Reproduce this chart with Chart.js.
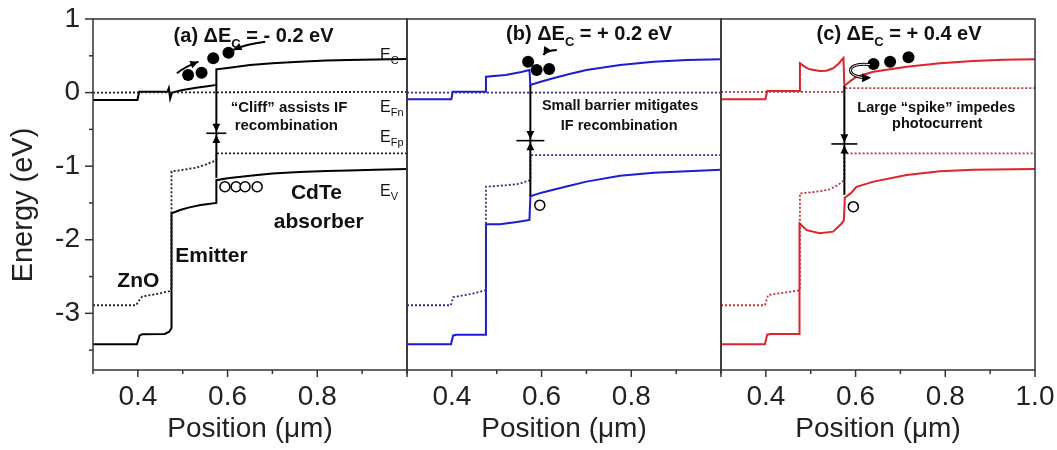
<!DOCTYPE html>
<html>
<head>
<meta charset="utf-8">
<script src="https://cdn.jsdelivr.net/npm/chart.js@4.4.1/dist/chart.umd.min.js"></script>
<style>
  body { margin: 0; background: #fff; }
  #wrap { position: relative; width: 1057px; height: 450px; }
  #wrap canvas { position: absolute; top: 0; }
</style>
</head>
<body>
<div id="wrap">
  <canvas id="panelA" width="410" height="450" style="left:0px"></canvas>
  <canvas id="panelB" width="320" height="450" style="left:404px"></canvas>
  <canvas id="panelC" width="339" height="450" style="left:718px"></canvas>
</div>
<script>
const FONT = "'Liberation Sans', Arial, Helvetica, sans-serif";

// axes (position in um, energy in eV)
const xTicks = [0.3, 0.4, 0.5, 0.6, 0.7, 0.8, 0.9, 1.0];
const yTicks = [1, 0.5, 0, -0.5, -1, -1.5, -2, -2.5, -3, -3.5];
const yMin = -3.77, yMax = 1;

// (a) dEc = -0.2 eV  : [position, energy]
const ecA = [[0.3,-0.1],[0.399,-0.1],[0.403,0.01],[0.466,0.01],[0.469,0.06],[0.472,-0.08],[0.476,0.0],[0.50,0.035],[0.53,0.065],[0.555,0.085],[0.575,0.103],[0.575,0.316],[0.60,0.335],[0.65,0.375],[0.70,0.40],[0.76,0.42],[0.82,0.435],[0.87,0.443],[0.93,0.45],[1.0,0.456]];
const efnA = [[0.3,0.0],[1.0,0.01]];
const efpA = [[0.3,-2.89],[0.396,-2.89],[0.402,-2.83],[0.41,-2.77],[0.44,-2.74],[0.47,-2.70],[0.475,-2.65],[0.475,-1.07],[0.50,-1.05],[0.53,-1.02],[0.555,-0.97],[0.575,-0.92],[0.575,-0.825],[1.0,-0.825]];
const evA = [[0.3,-3.42],[0.398,-3.42],[0.404,-3.30],[0.41,-3.285],[0.46,-3.28],[0.47,-3.25],[0.475,-3.2],[0.475,-1.64],[0.48,-1.63],[0.494,-1.595],[0.515,-1.56],[0.54,-1.527],[0.575,-1.50],[0.575,-1.19],[0.60,-1.165],[0.65,-1.13],[0.70,-1.10],[0.76,-1.08],[0.82,-1.065],[0.87,-1.06],[0.93,-1.05],[1.0,-1.04]];
const electronsA = [[0.512,0.239],[0.542,0.27],[0.568,0.466],[0.602,0.542]];
const holesA = [[0.594,-1.28],[0.619,-1.28],[0.639,-1.28],[0.666,-1.28]];

// (b) dEc = +0.2 eV
const ecB = [[0.3,-0.09],[0.399,-0.09],[0.402,0.01],[0.476,0.01],[0.476,0.216],[0.52,0.24],[0.555,0.28],[0.573,0.307],[0.575,0.103],[0.60,0.15],[0.626,0.194],[0.66,0.25],[0.70,0.307],[0.775,0.375],[0.85,0.42],[0.924,0.443],[1.0,0.452]];
const efnB = [[0.3,0.0],[1.0,0.0]];
const efpB = [[0.3,-2.89],[0.398,-2.89],[0.403,-2.78],[0.44,-2.74],[0.474,-2.69],[0.476,-2.68],[0.476,-1.28],[0.52,-1.26],[0.55,-1.24],[0.575,-1.19],[0.575,-0.85],[1.0,-0.85]];
const evB = [[0.3,-3.42],[0.398,-3.42],[0.403,-3.30],[0.41,-3.29],[0.476,-3.29],[0.476,-1.79],[0.507,-1.79],[0.545,-1.76],[0.573,-1.73],[0.575,-1.41],[0.60,-1.36],[0.626,-1.32],[0.66,-1.27],[0.70,-1.21],[0.775,-1.13],[0.85,-1.09],[0.924,-1.07],[1.0,-1.05]];
const electronsB = [[0.570,0.42],[0.589,0.307],[0.617,0.32]];
const holesB = [[0.596,-1.53]];

// (c) dEc = +0.4 eV
const ecC = [[0.3,-0.09],[0.399,-0.09],[0.403,0.02],[0.476,0.02],[0.476,0.40],[0.487,0.35],[0.498,0.316],[0.52,0.293],[0.535,0.298],[0.55,0.33],[0.562,0.39],[0.569,0.443],[0.573,0.47],[0.575,0.09],[0.589,0.16],[0.602,0.216],[0.64,0.284],[0.714,0.352],[0.788,0.398],[0.862,0.429],[0.93,0.445],[1.0,0.452]];
const efnC = [[0.3,0.01],[0.575,0.01],[0.575,0.06],[1.0,0.06]];
const efpC = [[0.3,-2.89],[0.398,-2.89],[0.405,-2.75],[0.44,-2.72],[0.472,-2.69],[0.476,-2.68],[0.476,-1.37],[0.51,-1.35],[0.54,-1.32],[0.56,-1.26],[0.575,-1.19],[0.575,-0.825],[1.0,-0.825]];
const evC = [[0.3,-3.42],[0.398,-3.42],[0.403,-3.29],[0.41,-3.28],[0.475,-3.28],[0.475,-1.776],[0.491,-1.87],[0.52,-1.91],[0.55,-1.89],[0.569,-1.78],[0.574,-1.73],[0.576,-1.43],[0.589,-1.37],[0.602,-1.28],[0.64,-1.21],[0.714,-1.12],[0.788,-1.07],[0.862,-1.05],[1.0,-1.04]];
const electronsC = [[0.64,0.39],[0.677,0.42],[0.718,0.48]];
const holesC = [[0.595,-1.55]];

const toXY = arr => arr.map(p => ({ x: p[0], y: p[1] }));

function bandSets(ec, efn, efp, ev, solid, dotted, electrons, holes) {
  return [
    { data: toXY(efn), borderColor: dotted, borderWidth: 1.8, borderDash: [2, 2] },
    { data: toXY(efp), borderColor: dotted, borderWidth: 1.8, borderDash: [2, 2] },
    { data: toXY(ec), borderColor: solid, borderWidth: 2 },
    { data: toXY(ev), borderColor: solid, borderWidth: 2 },
    { data: toXY(electrons), showLine: false, pointRadius: 6, pointBackgroundColor: '#000', pointBorderWidth: 0 },
    { data: toXY(holes), showLine: false, pointRadius: 5, pointBackgroundColor: '#fff', pointBorderColor: '#000', pointBorderWidth: 1.5 }
  ].map(d => Object.assign({ pointRadius: 0, tension: 0, fill: false }, d));
}

// text helpers: parts = [text, font, dy]
function partsWidth(ctx, parts) {
  let w = 0;
  for (const p of parts) { ctx.font = p[1]; w += ctx.measureText(p[0]).width; }
  return w;
}
function drawParts(ctx, x, y, parts, align) {
  let cx = align === 'center' ? x - partsWidth(ctx, parts) / 2 : x;
  ctx.textAlign = 'left';
  ctx.textBaseline = 'alphabetic';
  for (const p of parts) {
    ctx.font = p[1];
    ctx.fillText(p[0], cx, y + (p[2] || 0));
    cx += ctx.measureText(p[0]).width;
  }
}

function arrowHead(ctx, x, y, ang, size) {
  ctx.beginPath();
  ctx.moveTo(x, y);
  ctx.lineTo(x - size * Math.cos(ang - 0.45), y - size * Math.sin(ang - 0.45));
  ctx.lineTo(x - size * Math.cos(ang + 0.45), y - size * Math.sin(ang + 0.45));
  ctx.closePath();
  ctx.fill();
}

const B20 = 'bold 20px ' + FONT, B13 = 'bold 13px ' + FONT;
const N16 = '16px ' + FONT, N11 = '11px ' + FONT;

function titleParts(tag, val) {
  return [['(' + tag + ') \u0394E', B20, 0], ['C', B13, 6], [' = ' + val + ' eV', B20, 0]];
}

const notesA = {
  texts: [
    { x: 0.658, y: 0.69, parts: titleParts('a', '- 0.2'), align: 'center' },
    { x: 0.737, y: -0.26, parts: [['\u201CCliff\u201D assists IF', 'bold 15px ' + FONT]], align: 'center' },
    { x: 0.731, y: -0.505, parts: [['recombination', 'bold 15px ' + FONT]], align: 'center' },
    { x: 0.798, y: -1.44, parts: [['CdTe', 'bold 21px ' + FONT]], align: 'center' },
    { x: 0.803, y: -1.84, parts: [['absorber', 'bold 21px ' + FONT]], align: 'center' },
    { x: 0.564, y: -2.30, parts: [['Emitter', 'bold 21px ' + FONT]], align: 'center' },
    { x: 0.401, y: -2.64, parts: [['ZnO', 'bold 21px ' + FONT]], align: 'center' },
    { x: 0.94, y: 0.445, parts: [['E', N16], ['C', N11, 4]], align: 'left' },
    { x: 0.94, y: -0.26, parts: [['E', N16], ['Fn', N11, 4]], align: 'left' },
    { x: 0.94, y: -0.665, parts: [['E', N16], ['Fp', N11, 4]], align: 'left' },
    { x: 0.94, y: -1.41, parts: [['E', N16], ['V', N11, 4]], align: 'left' }
  ],
  rec: { x: 0.575, top: 0.103, bottom: -1.16, bar: -0.553, half: 10 },
  arrows: [
    [[0.487, 0.262], [0.505, 0.35], [0.535, 0.42]],
    [[0.684, 0.69], [0.64, 0.655], [0.613, 0.58]]
  ],
  curl: null,
  yTitle: true
};
const notesB = {
  texts: [
    { x: 0.706, y: 0.715, parts: titleParts('b', '+ 0.2'), align: 'center' },
    { x: 0.775, y: -0.236, parts: [['Small barrier mitigates', 'bold 14.5px ' + FONT]], align: 'center' },
    { x: 0.773, y: -0.508, parts: [['IF recombination', 'bold 14.5px ' + FONT]], align: 'center' }
  ],
  rec: { x: 0.575, top: 0.103, bottom: -1.41, bar: -0.653, half: 14 },
  arrows: [[[0.634, 0.579], [0.61, 0.57], [0.604, 0.51]]],
  curl: null,
  yTitle: false
};
const notesC = {
  texts: [
    { x: 0.697, y: 0.715, parts: titleParts('c', '+ 0.4'), align: 'center' },
    { x: 0.78, y: -0.264, parts: [['Large \u201Cspike\u201D impedes', 'bold 14.5px ' + FONT]], align: 'center' },
    { x: 0.782, y: -0.488, parts: [['photocurrent', 'bold 14.5px ' + FONT]], align: 'center' }
  ],
  rec: { x: 0.575, top: 0.09, bottom: -1.39, bar: -0.698, half: 13 },
  arrows: [],
  curl: [[0.632, 0.38], [0.575, 0.42], [0.575, 0.20], [0.628, 0.20]],
  yTitle: false
};

const notesPlugin = {
  id: 'notes',
  afterDatasetsDraw(chart, args, opts) {
    const n = opts.notes;
    const ctx = chart.ctx, xs = chart.scales.x, ys = chart.scales.y, a = chart.chartArea;
    const px = v => xs.getPixelForValue(v), py = v => ys.getPixelForValue(v);
    ctx.save();
    // recombination marker
    const r = n.rec, rx = px(r.x), bar = py(r.bar);
    ctx.strokeStyle = '#000'; ctx.fillStyle = '#000'; ctx.lineWidth = 2;
    ctx.beginPath(); ctx.moveTo(rx, py(r.top)); ctx.lineTo(rx, py(r.bottom)); ctx.stroke();
    ctx.lineWidth = 1.6;
    ctx.beginPath(); ctx.moveTo(rx - r.half, bar); ctx.lineTo(rx + r.half, bar); ctx.stroke();
    arrowHead(ctx, rx, bar - 1.5, Math.PI / 2, 9);
    arrowHead(ctx, rx, bar + 1.5, -Math.PI / 2, 9);
    // electron arrows
    ctx.lineWidth = 2;
    for (const ar of n.arrows) {
      const p = ar.map(q => [px(q[0]), py(q[1])]);
      ctx.beginPath(); ctx.moveTo(p[0][0], p[0][1]);
      ctx.quadraticCurveTo(p[1][0], p[1][1], p[2][0], p[2][1]); ctx.stroke();
      arrowHead(ctx, p[2][0], p[2][1], Math.atan2(p[2][1] - p[1][1], p[2][0] - p[1][0]), 9);
    }
    if (n.curl) {
      const p = n.curl.map(q => [px(q[0]), py(q[1])]);
      ctx.lineWidth = 3;
      ctx.beginPath(); ctx.moveTo(p[0][0], p[0][1]);
      ctx.bezierCurveTo(p[1][0], p[1][1], p[2][0], p[2][1], p[3][0], p[3][1]); ctx.stroke();
      ctx.strokeStyle = '#fff'; ctx.lineWidth = 1;
      ctx.beginPath(); ctx.moveTo(p[0][0], p[0][1]);
      ctx.bezierCurveTo(p[1][0], p[1][1], p[2][0], p[2][1], p[3][0], p[3][1]); ctx.stroke();
      arrowHead(ctx, p[3][0] + 3, p[3][1], Math.atan2(p[3][1] - p[2][1], p[3][0] - p[2][0]), 10);
    }
    // texts
    ctx.fillStyle = '#111';
    for (const t of n.texts) drawParts(ctx, px(t.x), py(t.y), t.parts, t.align);
    // frame
    ctx.strokeStyle = '#333'; ctx.lineWidth = 1.5;
    ctx.strokeRect(a.left, a.top, a.right - a.left, a.bottom - a.top);
    // tick marks
    for (const v of xTicks) {
      const x = px(v), len = Math.round(v * 10) % 2 === 0 ? 7 : 4;
      ctx.beginPath(); ctx.moveTo(x, a.bottom); ctx.lineTo(x, a.bottom + len); ctx.stroke();
    }
    if (n.yTitle) {
      for (const v of yTicks) {
        const y = py(v), len = Number.isInteger(v) ? 8 : 4;
        ctx.beginPath(); ctx.moveTo(a.left, y); ctx.lineTo(a.left - len, y); ctx.stroke();
      }
      ctx.translate(24, 205);
      ctx.rotate(-Math.PI / 2);
      ctx.fillStyle = '#222';
      ctx.font = '29px ' + FONT;
      ctx.textAlign = 'center'; ctx.textBaseline = 'middle';
      ctx.fillText('Energy (eV)', 0, 0);
    }
    ctx.restore();
  }
};

function makePanel(id, datasets, notes, pad, showY, lastLabel) {
  new Chart(document.getElementById(id), {
    type: 'line',
    data: { datasets: datasets },
    options: {
      responsive: false,
      animation: false,
      events: [],
      layout: { autoPadding: false, padding: { top: 19, bottom: 0, left: pad[0], right: pad[1] } },
      plugins: { legend: { display: false }, tooltip: { enabled: false }, notes: { notes: notes } },
      scales: {
        x: {
          type: 'linear', min: 0.3, max: 1.0,
          afterFit: s => { s.height = 80; s.paddingLeft = 0; s.paddingRight = 0; },
          afterBuildTicks: s => { s.ticks = xTicks.map(v => ({ value: v })); },
          grid: { display: false, drawTicks: false },
          border: { display: false },
          ticks: {
            padding: 10, autoSkip: false, maxRotation: 0, color: '#222',
            font: { family: FONT, size: 28 },
            callback: v => {
              const k = Math.round(v * 10);
              if (k % 2 !== 0 || k === 2) return '';
              if (k === 10 && !lastLabel) return '';
              return (k / 10).toFixed(1);
            }
          },
          title: { display: true, text: 'Position (\u03BCm)', color: '#222', font: { family: FONT, size: 28 }, padding: { top: 0, bottom: 4 } }
        },
        y: {
          type: 'linear', min: yMin, max: yMax, display: showY,
          afterFit: s => { s.width = showY ? 93 : 0; s.paddingTop = 0; s.paddingBottom = 0; },
          afterBuildTicks: s => { s.ticks = yTicks.map(v => ({ value: v })); },
          grid: { display: false, drawTicks: false },
          border: { display: false },
          ticks: {
            padding: 13, autoSkip: false, color: '#222',
            font: { family: FONT, size: 28 },
            callback: v => Number.isInteger(v) ? String(v) : ''
          }
        }
      }
    },
    plugins: [notesPlugin]
  });
}

makePanel('panelA', bandSets(ecA, efnA, efpA, evA, '#000', '#222', electronsA, holesA), notesA, [0, 3], true, false);
makePanel('panelB', bandSets(ecB, efnB, efpB, evB, '#1c1cd6', '#2e2e8c', electronsB, holesB), notesB, [3, 3], false, false);
makePanel('panelC', bandSets(ecC, efnC, efpC, evC, '#e0222a', '#c0303a', electronsC, holesC), notesC, [3, 22], false, true);
</script>
</body>
</html>
